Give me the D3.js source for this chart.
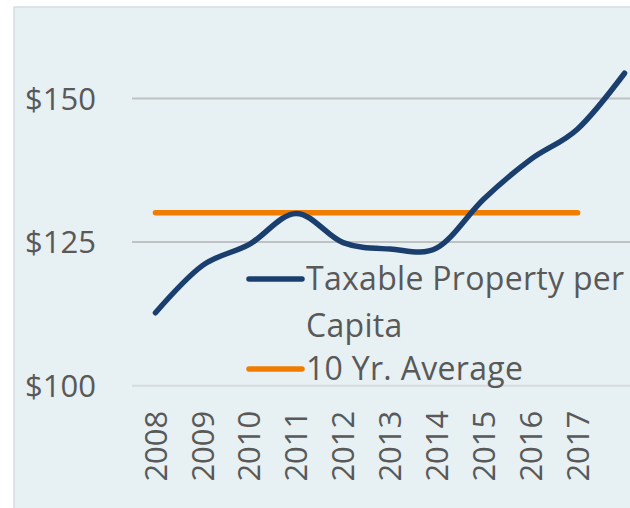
<!DOCTYPE html>
<html>
<head>
<meta charset="utf-8">
<script src="https://cdn.jsdelivr.net/npm/d3@7"></script>
<style>
  html, body { margin: 0; padding: 0; background: #ffffff; }
  svg { display: block; }
  text { font-family: "Open Sans", "Noto Sans", sans-serif; fill: #595959; }
</style>
</head>
<body>
<svg id="chart" width="630" height="508"></svg>
<script>
// ---- data ----
const categories = ["2008","2009","2010","2011","2012","2013","2014","2015","2016","2017","2018"];
const tickLabels = ["2008","2009","2010","2011","2012","2013","2014","2015","2016","2017",""];
const taxableValues = [112.7, 120.9, 124.6, 130.0, 124.9, 123.8, 124.0, 132.5, 139.4, 144.7, 154.4];
const averageValues = [130.1, 130.1, 130.1, 130.1, 130.1, 130.1, 130.1, 130.1, 130.1, 130.1, null];
const yTicks = [100, 125, 150];
const seriesNames = ["Taxable Property per Capita", "10 Yr. Average"];
const seriesColors = ["#1a3f6f", "#f07d00"];

// ---- layout ----
const svg = d3.select("#chart");
const W = 630, H = 508;
const plot = { left: 132, right: 648, top: 98.5, bottom: 385.7 };

svg.append("rect")
  .attr("x", 14).attr("y", 7)
  .attr("width", W).attr("height", H)
  .attr("fill", "#e7f0f3")
  .attr("stroke", "#d5dde2").attr("stroke-width", 1.5);

const x = d3.scaleBand().domain(categories).range([plot.left, plot.right]).padding(0);
const cx = d => x(d) + x.bandwidth() / 2;
const y = d3.scaleLinear().domain([100, 150]).range([plot.bottom, plot.top]);

// gridlines + y labels
const yAxis = d3.axisLeft(y).tickValues(yTicks).tickFormat(d => "$" + d).tickSize(0);
const gy = svg.append("g").attr("transform", `translate(${plot.left},0)`).call(yAxis);
gy.select(".domain").remove();
gy.selectAll(".tick line").remove();
gy.selectAll(".tick text")
  .attr("x", -36).attr("dy", "0.34em")
  .style("font-size", "31px").attr("fill", "#595959");

svg.append("g").selectAll("line").data(yTicks).join("line")
  .attr("x1", plot.left).attr("x2", W)
  .attr("y1", d => y(d)).attr("y2", d => y(d))
  .attr("stroke", d => d === 100 ? "#d4dadd" : "#bfc1c2")
  .attr("stroke-width", 2);

// x axis labels
const xAxis = d3.axisBottom(x).tickFormat((d, i) => tickLabels[i]).tickSize(0);
const gx = svg.append("g").attr("transform", `translate(0,${plot.bottom})`).call(xAxis);
gx.select(".domain").remove();
gx.selectAll(".tick text")
  .attr("transform", "rotate(-90)")
  .attr("x", -25).attr("y", 0).attr("dy", "0.36em")
  .attr("text-anchor", "end")
  .style("font-size", "31px").attr("fill", "#595959");

// lines
const line = d3.line()
  .defined(d => d.v !== null)
  .x(d => cx(d.c)).y(d => y(d.v))
  .curve(d3.curveCardinal.tension(0));

svg.append("path")
  .datum(categories.map((c, i) => ({ c, v: averageValues[i] })))
  .attr("d", d3.line().defined(d => d.v !== null).x(d => cx(d.c)).y(d => y(d.v)))
  .attr("fill", "none").attr("stroke", seriesColors[1])
  .attr("stroke-width", 5.5).attr("stroke-linecap", "round");

svg.append("path")
  .datum(categories.map((c, i) => ({ c, v: taxableValues[i] })))
  .attr("d", line)
  .attr("fill", "none").attr("stroke", seriesColors[0])
  .attr("stroke-width", 5.5).attr("stroke-linecap", "round").attr("stroke-linejoin", "round");

// legend
const leg = svg.append("g");
const legItems = [
  { color: seriesColors[0], lines: ["Taxable Property per", "Capita"], y: 279 },
  { color: seriesColors[1], lines: [seriesNames[1]], y: 369 }
];
legItems.forEach(item => {
  leg.append("line")
    .attr("x1", 249).attr("x2", 302)
    .attr("y1", item.y).attr("y2", item.y)
    .attr("stroke", item.color).attr("stroke-width", 5.5).attr("stroke-linecap", "round");
  item.lines.forEach((t, j) => {
    leg.append("text")
      .attr("x", 306).attr("y", item.y + 11 + j * 47)
      .style("font-size", "32px")
      .style("letter-spacing", "0.3px")
      .text(t);
  });
});
</script>
</body>
</html>
